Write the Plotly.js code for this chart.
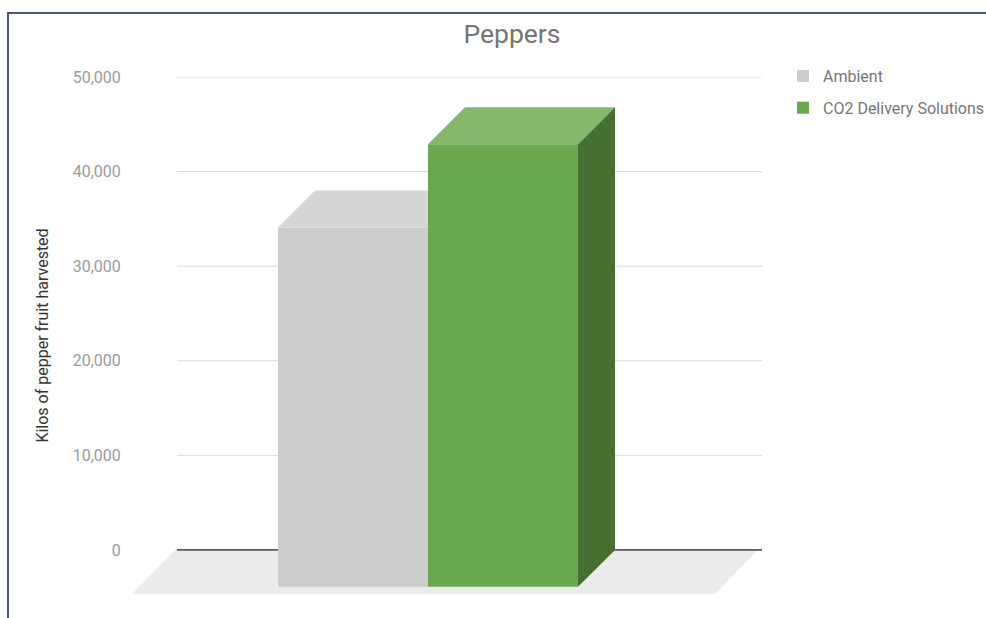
<!DOCTYPE html>
<html>
<head>
<meta charset="utf-8">
<script src="https://cdn.plot.ly/plotly-3.0.1.min.js"></script>
<style>
  html, body { margin: 0; padding: 0; background: #ffffff; overflow: hidden; }
  #chart { position: absolute; left: 0; top: 0; width: 986px; height: 618px; }
  #frame { position: absolute; left: 7px; top: 12px; width: 990px; height: 620px;
           border-top: 2px solid #4b5a70; border-left: 2px solid #4b5a70; pointer-events: none; }
</style>
</head>
<body>
<div id="chart"></div>
<div id="frame"></div>
<script>
// ---- data ----
const chartTitle = "Peppers";
const yTitle = "Kilos of pepper fruit harvested";
const seriesNames = ["Ambient", "CO2 Delivery Solutions"];
const seriesValues = [38000, 46800];
const tickValues = [0, 10000, 20000, 30000, 40000, 50000];

// ---- styling / geometry constants ----
const frontColors = ["#cccccc", "#6aa84f"];
const topColors = ["#d6d6d6", "#85b76d"];
const sideColors = ["#a9a9a9", "#466f31"];
const barW = 1.5;          // bar width in x units
const depthX = 0.37;       // 3D depth offset (x units)
const depthY = 3900;       // 3D depth offset (y units)
const floorDX = 0.43, floorDY = 4660;
const backLeft = -2.88, backRight = 2.97;
const xRange = [-3.33, 2.97];
const yRange = [-4660, 50000];

const n = seriesValues.length;
const groupLeft = -barW * n / 2;

const traces = [];
for (let i = 0; i < n; i++) {
  const v = seriesValues[i];
  const x0f = groupLeft + i * barW - depthX;
  const x1f = x0f + barW;
  // front face (bar, gives legend entry)
  traces.push({
    type: "bar", x: [(x0f + x1f) / 2], y: [v], base: [-depthY], width: [barW],
    name: seriesNames[i], marker: { color: frontColors[i], line: { width: 0 } },
    legendgroup: "g" + i, hoverinfo: "skip"
  });
  const next = i + 1 < n ? seriesValues[i + 1] : null;
  const hidden = next !== null && next - depthY >= v;
  // top face
  let tx, ty;
  if (hidden) {
    tx = [x0f, x1f, x1f, x0f + depthX, x0f];
    ty = [v - depthY, v - depthY, v, v, v - depthY];
  } else {
    tx = [x0f, x1f, x1f + depthX, x0f + depthX, x0f];
    ty = [v - depthY, v - depthY, v, v, v - depthY];
  }
  traces.push({
    type: "scatter", mode: "lines", x: tx, y: ty, fill: "toself",
    fillcolor: topColors[i], line: { width: 0, color: topColors[i] },
    showlegend: false, hoverinfo: "skip"
  });
  if (!hidden) {
    traces.push({
      type: "scatter", mode: "lines",
      x: [x1f, x1f + depthX, x1f + depthX, x1f, x1f],
      y: [-depthY, 0, v, v - depthY, -depthY], fill: "toself",
      fillcolor: sideColors[i], line: { width: 0, color: sideColors[i] },
      showlegend: false, hoverinfo: "skip"
    });
  }
}

// floor + gridlines as layout shapes below the traces
const shapes = [];
shapes.push({
  type: "path", xref: "x", yref: "y", layer: "below",
  path: `M${backLeft - 0.02},0 L${backRight - 0.04},0 L${backRight - 0.04 - floorDX},${-floorDY} L${backLeft - 0.02 - floorDX},${-floorDY} Z`,
  fillcolor: "#ebebeb", line: { width: 0 }
});
tickValues.forEach(t => {
  if (t === 0) return;
  shapes.push({ type: "line", xref: "x", yref: "y", layer: "below",
    x0: backLeft, x1: backRight, y0: t, y1: t, line: { color: "#d9d9d9", width: 1 } });
});
shapes.push({ type: "line", xref: "x", yref: "y", layer: "below",
  x0: backLeft, x1: backRight, y0: 0, y1: 0, line: { color: "#5a5a5a", width: 1.6 } });

const layout = {
  width: 986, height: 618,
  margin: { l: 132, r: 224, t: 77, b: 24, pad: 0 },
  paper_bgcolor: "#ffffff", plot_bgcolor: "rgba(0,0,0,0)",
  font: { family: "Roboto, Arial, sans-serif", size: 16, color: "#757575" },
  title: { text: chartTitle, x: 512 / 986, xref: "container", xanchor: "center",
           y: 1 - 34 / 618, yref: "container", yanchor: "middle",
           font: { size: 26.5, color: "#757575", family: "Roboto, Arial, sans-serif" } },
  barmode: "overlay",
  showlegend: true,
  legend: { xref: "container", yref: "container", x: 783 / 986, y: 1 - 59 / 618,
            xanchor: "left", yanchor: "top", tracegroupgap: 8,
            font: { size: 16, color: "#757575" }, bgcolor: "rgba(0,0,0,0)" },
  xaxis: { range: xRange, visible: false, fixedrange: true },
  yaxis: { range: yRange, tickvals: tickValues, tickformat: ",d",
           showgrid: false, zeroline: false, showline: false,
           ticks: "outside", ticklen: 7, tickcolor: "rgba(0,0,0,0)",
           tickfont: { size: 16, color: "#9a9a9a" },
           title: { text: yTitle, standoff: 20, font: { size: 16, color: "#333333" } },
           automargin: false, fixedrange: true },
  shapes: shapes
};

Plotly.newPlot("chart", traces, layout, { displayModeBar: false, staticPlot: true });
</script>
</body>
</html>
